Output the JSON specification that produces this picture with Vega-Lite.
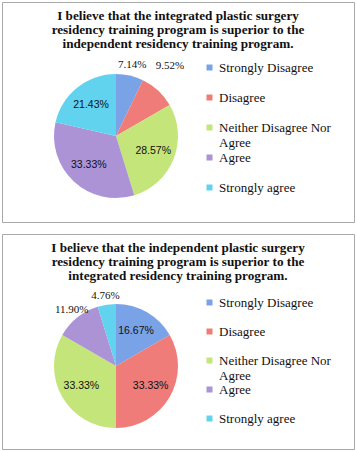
{
  "$schema": "https://vega.github.io/schema/vega-lite/v6.json",
  "padding": {"left": 1, "top": 1, "right": 0, "bottom": 0},
  "spacing": 10,
  "config": {
    "view": {"stroke": "#a8a8a8", "strokeWidth": 1},
    "legend": {
      "orient": "none",
      "labelFont": "Liberation Serif",
      "labelFontSize": 13,
      "labelColor": "#111",
      "symbolType": "square",
      "symbolSize": 36,
      "symbolStrokeWidth": 0,
      "labelOffset": 3,
      "gridAlign": "all",
      "title": null
    },
    "title": {
      "font": "Liberation Serif",
      "fontWeight": "bold",
      "fontSize": 13.2,
      "lineHeight": 14,
      "color": "#111",
      "anchor": "middle",
      "frame": "group",
      "baseline": "bottom",
      "offset": -49
    }
  },
  "vconcat": [
    {
      "width": 352,
      "height": 220,
      "view": {"stroke": "#a8a8a8"},
      "title": {"text": ["I believe that the integrated plastic surgery", "residency training program is superior to the", "independent residency training program."]},
      "data": {"values": [
        {"k": 1, "response": "Strongly Disagree", "v": 0.0714},
        {"k": 2, "response": "Disagree", "v": 0.0952},
        {"k": 3, "response": "Neither Disagree Nor Agree", "v": 0.2857},
        {"k": 4, "response": "Agree", "v": 0.3333},
        {"k": 5, "response": "Strongly agree", "v": 0.2143}
      ]},
      "encoding": {
        "theta": {"field": "v", "type": "quantitative", "stack": true},
        "order": {"field": "k", "type": "quantitative"}
      },
      "layer": [
        {
          "mark": {"type": "arc", "x": 114, "y": 134, "outerRadius": 62},
          "encoding": {
            "color": {
              "field": "response", "type": "nominal",
              "scale": {
                "domain": ["Strongly Disagree", "Disagree", "Neither Disagree Nor Agree", "Agree", "Strongly agree"],
                "range": ["#7aa2e6", "#ef7c78", "#c4e57a", "#ab93d6", "#62d3ef"]
              },
              "legend": {
                "legendX": 201, "legendY": 59, "rowPadding": 1,
                "labelExpr": "datum.label == 'Neither Disagree Nor Agree' ? ['Neither Disagree Nor', 'Agree'] : datum.label"
              }
            }
          }
        },
        {
          "mark": {"type": "text", "x": 114, "y": 134, "radius": 40, "font": "Liberation Sans", "fontSize": 10.5, "color": "#111"},
          "encoding": {
            "text": {"condition": {"test": "datum.v >= 0.15", "field": "v", "type": "quantitative", "format": ".2%"}, "value": ""}
          }
        },
        {
          "mark": {"type": "text", "x": 114, "y": 134, "radius": 73, "font": "Liberation Serif", "fontSize": 11, "color": "#111"},
          "encoding": {
            "text": {"condition": {"test": "datum.v < 0.08", "field": "v", "type": "quantitative", "format": ".2%"}, "value": ""}
          }
        },
        {
          "mark": {"type": "text", "x": 114, "y": 134, "radius": 78, "dx": 1, "dy": -13, "font": "Liberation Serif", "fontSize": 11, "color": "#111"},
          "encoding": {
            "text": {"condition": {"test": "datum.v >= 0.08 && datum.v < 0.15", "field": "v", "type": "quantitative", "format": ".2%"}, "value": ""}
          }
        }
      ]
    },
    {
      "width": 352,
      "height": 215,
      "view": {"stroke": "#a8a8a8"},
      "title": {"text": ["I believe that the independent plastic surgery", "residency training program is superior to the", "integrated residency training program."]},
      "data": {"values": [
        {"k": 1, "response": "Strongly Disagree", "v": 0.1667},
        {"k": 2, "response": "Disagree", "v": 0.3333},
        {"k": 3, "response": "Neither Disagree Nor Agree", "v": 0.3333},
        {"k": 4, "response": "Agree", "v": 0.119},
        {"k": 5, "response": "Strongly agree", "v": 0.0476}
      ]},
      "encoding": {
        "theta": {"field": "v", "type": "quantitative", "stack": true},
        "order": {"field": "k", "type": "quantitative"}
      },
      "layer": [
        {
          "mark": {"type": "arc", "x": 114, "y": 132, "outerRadius": 62},
          "encoding": {
            "color": {
              "field": "response", "type": "nominal",
              "scale": {
                "domain": ["Strongly Disagree", "Disagree", "Neither Disagree Nor Agree", "Agree", "Strongly agree"],
                "range": ["#7aa2e6", "#ef7c78", "#c4e57a", "#ab93d6", "#62d3ef"]
              },
              "legend": {
                "legendX": 201, "legendY": 62, "rowPadding": 0,
                "labelExpr": "datum.label == 'Neither Disagree Nor Agree' ? ['Neither Disagree Nor', 'Agree'] : datum.label"
              }
            }
          }
        },
        {
          "mark": {"type": "text", "x": 114, "y": 132, "radius": 40, "font": "Liberation Sans", "fontSize": 10.5, "color": "#111"},
          "encoding": {
            "text": {"condition": {"test": "datum.v >= 0.15", "field": "v", "type": "quantitative", "format": ".2%"}, "value": ""}
          }
        },
        {
          "mark": {"type": "text", "x": 114, "y": 132, "radius": 71, "font": "Liberation Serif", "fontSize": 11, "color": "#111"},
          "encoding": {
            "text": {"condition": {"test": "datum.v < 0.15", "field": "v", "type": "quantitative", "format": ".2%"}, "value": ""}
          }
        }
      ]
    }
  ],
  "resolve": {"scale": {"color": "independent"}}
}
